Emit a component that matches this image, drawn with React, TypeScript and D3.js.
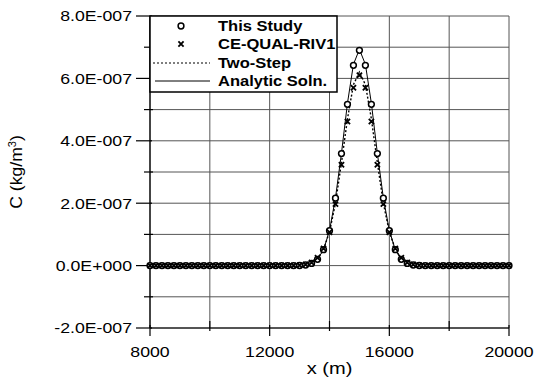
import React from "react";
import * as d3 from "d3";

const W = 550;
const H = 383;

const xs = [
  8000, 8200, 8400, 8600, 8800, 9000, 9200, 9400, 9600, 9800,
  10000, 10200, 10400, 10600, 10800, 11000, 11200, 11400, 11600, 11800,
  12000, 12200, 12400, 12600, 12800, 13000, 13200, 13400, 13600, 13800,
  14000, 14200, 14400, 14600, 14800, 15000, 15200, 15400, 15600, 15800,
  16000, 16200, 16400, 16600, 16800, 17000, 17200, 17400, 17600, 17800,
  18000, 18200, 18400, 18600, 18800, 19000, 19200, 19400, 19600, 19800,
  20000,
];

// values in units of 1E-7 kg/m3
const thisStudy = [
  0, 0, 0, 0, 0, 0, 0, 0, 0, 0,
  0, 0, 0, 0, 0, 0, 0, 0, 0, 0,
  0, 0, 0, 0, 0, 0.004, 0.02, 0.07, 0.2, 0.51,
  1.12, 2.16, 3.59, 5.17, 6.42, 6.9, 6.42, 5.17, 3.59, 2.16,
  1.12, 0.51, 0.2, 0.07, 0.02, 0.004, 0, 0, 0, 0,
  0, 0, 0, 0, 0, 0, 0, 0, 0, 0,
  0,
];

const ceQualRiv1 = [
  0, 0, 0, 0, 0, 0, 0, 0, 0, 0,
  0, 0, 0, 0, 0, 0, 0, 0, 0, 0,
  0, 0, 0, 0, 0.003, 0.01, 0.035, 0.1, 0.25, 0.55,
  1.07, 1.97, 3.23, 4.62, 5.7, 6.1, 5.7, 4.62, 3.23, 1.97,
  1.07, 0.55, 0.25, 0.1, 0.035, 0.01, 0.003, 0, 0, 0,
  0, 0, 0, 0, 0, 0, 0, 0, 0, 0,
  0,
];

const twoStep = [
  0, 0, 0, 0, 0, 0, 0, 0, 0, 0,
  0, 0, 0, 0, 0, 0, 0, 0, 0, 0,
  0, 0, 0, 0, 0.002, 0.006, 0.025, 0.08, 0.22, 0.52,
  1.08, 2.0, 3.3, 4.7, 5.8, 6.2, 5.8, 4.7, 3.3, 2.0,
  1.08, 0.52, 0.22, 0.08, 0.025, 0.006, 0.002, 0, 0, 0,
  0, 0, 0, 0, 0, 0, 0, 0, 0, 0,
  0,
];

const analytic = [
  0, 0, 0, 0, 0, 0, 0, 0, 0, 0,
  0, 0, 0, 0, 0, 0, 0, 0, 0, 0,
  0, 0, 0, 0, 0, 0.004, 0.018, 0.066, 0.2, 0.51,
  1.12, 2.17, 3.6, 5.2, 6.45, 6.93, 6.45, 5.2, 3.6, 2.17,
  1.12, 0.51, 0.2, 0.066, 0.018, 0.004, 0, 0, 0, 0,
  0, 0, 0, 0, 0, 0, 0, 0, 0, 0,
  0,
];

const yTickValues = [-2e-7, 0, 2e-7, 4e-7, 6e-7, 8e-7];
const yTickLabels = ["-2.0E-007", "0.0E+000", "2.0E-007", "4.0E-007", "6.0E-007", "8.0E-007"];
const yMinorTicks = [-1e-7, 1e-7, 3e-7, 5e-7, 7e-7];
const xTickValues = [8000, 12000, 16000, 20000];
const xMinorTicks = [10000, 14000, 18000];
const xGrid = [8000, 10000, 12000, 14000, 16000, 18000, 20000];
const yGrid = [-2e-7, -1e-7, 0, 1e-7, 2e-7, 3e-7, 4e-7, 5e-7, 6e-7, 7e-7, 8e-7];

const legendLabels = ["This Study", "CE-QUAL-RIV1", "Two-Step", "Analytic Soln."];

const FONT = "'Liberation Sans', Arial, sans-serif";
const SX = 1.18;

export default function App() {
  const x = d3.scaleLinear().domain([8000, 20000]).range([150, 509]);
  const y = d3.scaleLinear().domain([-2e-7, 8e-7]).range([328, 16]);

  const toPts = (vals: number[]) => xs.map((xv, i) => [xv, vals[i] * 1e-7] as [number, number]);
  const line = d3
    .line<[number, number]>()
    .x((d) => x(d[0]))
    .y((d) => y(d[1]));

  const studyPts = toPts(thisStudy);
  const cePts = toPts(ceQualRiv1);

  const xMark = (cx: number, cy: number, k: string | number, s = 2.6) => (
    <path
      key={k}
      d={`M${cx - s},${cy - s}L${cx + s},${cy + s}M${cx - s},${cy + s}L${cx + s},${cy - s}`}
      stroke="#000"
      strokeWidth={1.8}
      fill="none"
    />
  );

  const legendY = [26, 44, 63, 81];

  return (
    <svg
      width={W}
      height={H}
      style={{ position: "absolute", left: 0, top: 0, background: "#fff" }}
      fontFamily={FONT}
    >
      <rect x={0} y={0} width={W} height={H} fill="#fff" />
      {/* grid */}
      <g stroke="#555" strokeWidth={1}>
        {xGrid.map((v) => (
          <line key={"gx" + v} x1={x(v)} x2={x(v)} y1={y(8e-7)} y2={y(-2e-7)} />
        ))}
        {yGrid.map((v) => (
          <line key={"gy" + v} x1={x(8000)} x2={x(20000)} y1={y(v)} y2={y(v)} />
        ))}
      </g>
      {/* axes */}
      <g stroke="#000" strokeWidth={1.2}>
        <line x1={x(8000)} x2={x(8000)} y1={y(8e-7)} y2={y(-2e-7)} />
        <line x1={x(8000)} x2={x(20000)} y1={y(-2e-7)} y2={y(-2e-7)} />
        {yTickValues.map((v) => (
          <line key={"yt" + v} x1={x(8000) - 14} x2={x(8000) + 2} y1={y(v)} y2={y(v)} />
        ))}
        {yMinorTicks.map((v) => (
          <line key={"ym" + v} x1={x(8000) - 6} x2={x(8000) + 3} y1={y(v)} y2={y(v)} />
        ))}
        {xTickValues.map((v) => (
          <line key={"xt" + v} x1={x(v)} x2={x(v)} y1={y(-2e-7) - 3} y2={y(-2e-7) + 8} />
        ))}
        {xMinorTicks.map((v) => (
          <line key={"xm" + v} x1={x(v)} x2={x(v)} y1={y(-2e-7) - 7} y2={y(-2e-7) + 3} />
        ))}
      </g>
      {/* tick labels */}
      {yTickValues.map((v, i) => (
        <g key={"yl" + v} transform={`translate(${x(8000) - 18},${y(v)}) scale(${SX},1)`}>
          <text textAnchor="end" dominantBaseline="central" fontSize={15} fill="#000">
            {yTickLabels[i]}
          </text>
        </g>
      ))}
      {xTickValues.map((v) => (
        <g key={"xl" + v} transform={`translate(${x(v)},${357}) scale(${SX},1)`}>
          <text textAnchor="middle" fontSize={15} fill="#000">
            {String(v)}
          </text>
        </g>
      ))}
      {/* axis titles */}
      <g transform={`translate(${(x(8000) + x(20000)) / 2},${374}) scale(${SX},1)`}>
        <text textAnchor="middle" fontSize={17} fill="#000">
          x (m)
        </text>
      </g>
      <g transform={`translate(22,${(y(8e-7) + y(-2e-7)) / 2}) rotate(-90) scale(1.1,1)`}>
        <text textAnchor="middle" fontSize={16} fill="#000">
          C (kg/m<tspan fontSize={10} dy={-6}>3</tspan>
          <tspan dy={6}>)</tspan>
        </text>
      </g>
      {/* series */}
      <path d={line(toPts(analytic)) || ""} fill="none" stroke="#000" strokeWidth={1} />
      <path
        d={line(toPts(twoStep)) || ""}
        fill="none"
        stroke="#000"
        strokeWidth={1.4}
        strokeDasharray="2,2"
      />
      {studyPts.map((p, i) => (
        <circle
          key={"st" + i}
          cx={x(p[0])}
          cy={y(p[1])}
          r={2.9}
          fill="#fff"
          stroke="#000"
          strokeWidth={1.5}
        />
      ))}
      {cePts.map((p, i) => xMark(x(p[0]), y(p[1]), "ce" + i))}
      {/* legend */}
      <rect x={150} y={16} width={187} height={76} fill="#fff" stroke="#000" strokeWidth={1.5} />
      <circle cx={181} cy={legendY[0]} r={2.9} fill="#fff" stroke="#000" strokeWidth={1.5} />
      {xMark(181, legendY[1], "lgx")}
      <line x1={153} x2={210} y1={legendY[2]} y2={legendY[2]} stroke="#000" strokeWidth={1.2} strokeDasharray="2,2" />
      <line x1={155} x2={210} y1={legendY[3]} y2={legendY[3]} stroke="#000" strokeWidth={1} />
      {legendLabels.map((t, i) => (
        <g key={"lg" + i} transform={`translate(218,${legendY[i]}) scale(${SX},1)`}>
          <text dominantBaseline="central" fontSize={14} fontWeight="bold" fill="#000">
            {t}
          </text>
        </g>
      ))}
    </svg>
  );
}
